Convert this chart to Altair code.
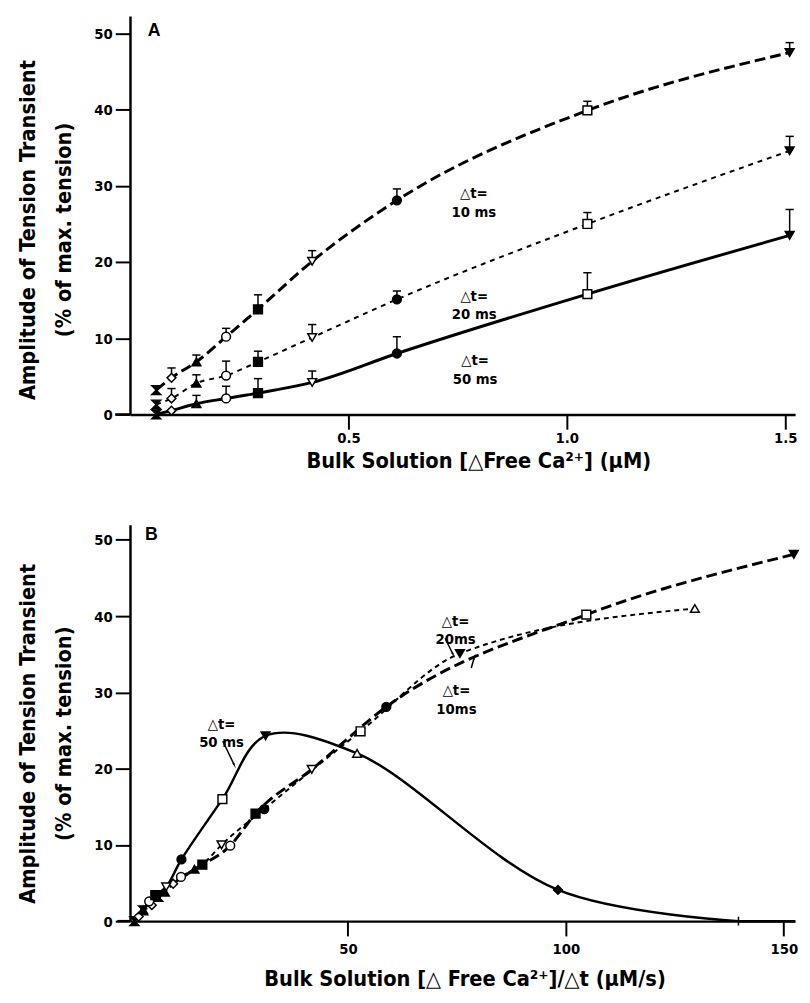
import altair as alt
import pandas as pd

FONT = "Liberation Sans Narrow, DejaVu Sans Condensed, Roboto Condensed, Liberation Sans, sans-serif"

# ---------------- symbols: one per free-Ca step ----------------
SYM_IDS = ["s1", "s2", "s3", "s4", "s5", "s6", "s7", "s8", "s9", "s10", "s11", "s12"]
SYM_SHAPES = ["M-1,-1L1,-1L-1,1L1,1Z", "diamond", "triangle-up", "circle", "square",
              "triangle-down", "circle", "square", "triangle-down", "triangle-up",
              "diamond", "M-1,0L1,0M0,-1L0,1"]
SYM_FILLED = [True, False, True, False, True, False, True, False, True, False, True, False]

# ---------------- Panel A data ----------------
A_CONC = [0.06, 0.095, 0.152, 0.22, 0.293, 0.417, 0.611, 1.047, 1.51]
A_SYM = ["s1", "s2", "s3", "s4", "s5", "s6", "s7", "s8", "s9"]
A_10 = [3.2, 4.8, 6.9, 10.2, 13.8, 20.1, 28.1, 39.9, 47.5]
A_10_ERR = [None, 6.1, 7.8, 11.3, 15.7, 21.5, 29.6, 41.1, 48.8]
A_20 = [1.3, 2.1, 4.1, 5.1, 6.9, 10.1, 15.1, 25.0, 34.6]
A_20_ERR = [None, 3.4, 5.2, 7.0, 8.3, 11.8, 16.2, 26.5, 36.5]
A_50 = [0.0, 0.5, 1.4, 2.1, 2.8, 4.2, 8.0, 15.8, 23.5]
A_50_ERR = [None, None, 2.5, 3.7, 4.7, 5.7, 10.2, 18.6, 26.9]

A_LABEL_X = [0.787, 0.788, 0.79]
A_LABEL_Y = [29.0, 15.6, 7.1]
A_LABEL_TEXT = ["△t=\n10 ms", "△t=\n20 ms", "△t=\n50 ms"]

# ---------------- Panel B data ----------------
B_10_X = [6.5, 9.9, 14.8, 23.0, 28.8, 41.7, 58.8, 104.7, 152.3]
B_10_Y = [3.2, 4.9, 6.8, 9.9, 14.1, 19.9, 28.1, 40.2, 48.1]
B_10_SYM = ["s1", "s2", "s3", "s4", "s5", "s6", "s7", "s8", "s9"]
B_20_X = [3.0, 5.0, 8.0, 11.7, 16.6, 21.0, 30.8, 52.9, 75.7, 129.6]
B_20_Y = [1.4, 2.1, 3.8, 5.8, 7.4, 10.0, 14.7, 24.9, 35.1, 41.0]
B_20_SYM = ["s1", "s2", "s3", "s4", "s5", "s6", "s7", "s8", "s9", "s10"]
B_50_X = [1.0, 2.0, 3.0, 4.4, 5.8, 8.3, 11.8, 21.2, 31.1, 52.1, 98.2, 139.6]
B_50_Y = [0.0, 0.6, 1.5, 2.6, 3.4, 4.5, 8.1, 16.0, 24.3, 22.0, 4.1, 0.0]
B_50_SYM = ["s1", "s2", "s3", "s4", "s5", "s6", "s7", "s8", "s9", "s10", "s11", "s12"]
B_50_LINE_END_X = 152.6
B_50_LINE_END_Y = 0.0

B_LABEL_X = [74.7, 74.9, 21.0]
B_LABEL_Y = [39.4, 30.3, 25.9]
B_LABEL_TEXT = ["△t=\n20ms", "△t=\n10ms", "△t=\n50 ms"]
B_ARROW_X0 = [72.3, 78.3, 21.3]
B_ARROW_Y0 = [37.1, 33.2, 23.6]
B_ARROW_X1 = [74.1, 79.0, 23.9]
B_ARROW_Y1 = [35.0, 34.6, 20.5]
ARROW_ANGLES = [154, 16, 154]

# ---------------- helpers ----------------
fill_of = {s: ("black" if f else "white") for s, f in zip(SYM_IDS, SYM_FILLED)}


def points_df(xs, ys, syms):
    return pd.DataFrame({"x": xs, "y": ys, "sym": syms, "fc": [fill_of[s] for s in syms]})


def shape_enc():
    return alt.Shape("sym:N", scale=alt.Scale(domain=SYM_IDS, range=SYM_SHAPES), legend=None)


def point_layer(df, x, y):
    return alt.Chart(df).mark_point(filled=True, opacity=1, size=80, strokeWidth=1.5).encode(
        x=x, y=y, shape=shape_enc(), fill=alt.Fill("fc:N", scale=None), stroke=alt.value("black"))


def line_layer(df, x, y, dash, width, interp="monotone"):
    kw = dict(interpolate=interp, strokeWidth=width, color="black")
    if dash:
        kw["strokeDash"] = dash
    return alt.Chart(df).mark_line(**kw).encode(x=x, y=y)


def label_layer(df, x, y):
    return alt.Chart(df).mark_text(
        font=FONT, fontSize=15, fontWeight="bold", lineBreak="\n", lineHeight=19,
        align="center", baseline="middle", color="black").encode(x=x, y=y, text="t:N")


W = 676
Y_TITLE = ["Amplitude of Tension Transient", "(% of max. tension)"]

# ================= Panel A =================
xA = alt.X("x:Q", scale=alt.Scale(domain=[0, 1.5225], nice=False, zero=False),
           axis=alt.Axis(values=[0.5, 1.0, 1.5], format=".1f", labelPadding=2,
                         title="Bulk Solution [△Free Ca²⁺] (μM)", titleFontSize=22,
                         titleX=354, titleY=37, titleBaseline="top"))
yA = alt.Y("y:Q", scale=alt.Scale(domain=[0, 52.3], nice=False, zero=False),
           axis=alt.Axis(values=[0, 10, 20, 30, 40, 50], format="d", labelPadding=3,
                         title=Y_TITLE, titleFontSize=22, titleLineHeight=37,
                         titleBaseline="bottom", titleX=-92, titleY=217))

a_lines = []
for ys, dash, wdt in [(A_10, [11, 5], 3), (A_20, [5, 5], 2), (A_50, None, 3)]:
    a_lines.append(line_layer(pd.DataFrame({"x": A_CONC, "y": ys}), xA, yA, dash, wdt))

err_rows = []
for ys, errs in [(A_10, A_10_ERR), (A_20, A_20_ERR), (A_50, A_50_ERR)]:
    for c, v, e in zip(A_CONC, ys, errs):
        if e is not None:
            err_rows.append({"x": c, "y": v, "top": e})
err_df = pd.DataFrame(err_rows)
a_err = alt.Chart(err_df).mark_rule(strokeWidth=1.5, color="black").encode(x=xA, y=yA, y2="top")
a_cap = alt.Chart(err_df).mark_point(shape="stroke", size=70, strokeWidth=1.5, color="black",
                                     filled=False, opacity=1).encode(x=xA, y=alt.Y("top:Q"))

a_pts = point_layer(pd.concat([points_df(A_CONC, A_10, A_SYM),
                               points_df(A_CONC, A_20, A_SYM),
                               points_df(A_CONC, A_50, A_SYM)]), xA, yA)

a_txt = label_layer(pd.DataFrame({"x": A_LABEL_X, "y": A_LABEL_Y, "t": A_LABEL_TEXT}), xA, yA)

a_letter = alt.Chart(pd.DataFrame({"x": [0.055], "y": [50.3], "t": ["A"]})).mark_text(
    font="Liberation Sans, Arial, sans-serif", fontSize=18, fontWeight="bold",
    align="center", baseline="middle", color="black").encode(x=xA, y=yA, text="t:N")

a_ext = alt.Chart(pd.DataFrame({"x": [-0.034], "x2": [0.0], "y": [0.0]})).mark_rule(
    strokeWidth=2.5, color="black").encode(x=xA, x2="x2", y=yA)

panelA = alt.layer(*a_lines, a_err, a_cap, a_pts, a_txt, a_letter, a_ext).properties(
    width=W, height=405)

# ================= Panel B =================
xB = alt.X("x:Q", scale=alt.Scale(domain=[0, 152.6], nice=False, zero=False),
           axis=alt.Axis(values=[50, 100, 150], format="d", labelPadding=6,
                         title="Bulk Solution [△ Free Ca²⁺]/△t (μM/s)", titleFontSize=22,
                         titleX=340, titleY=48, titleBaseline="top"))
yB = alt.Y("y:Q", scale=alt.Scale(domain=[0, 52.0], nice=False, zero=False),
           axis=alt.Axis(values=[0, 10, 20, 30, 40, 50], format="d", labelPadding=3,
                         title=Y_TITLE, titleFontSize=22, titleLineHeight=37,
                         titleBaseline="bottom", titleX=-92, titleY=212))

b_l10 = line_layer(pd.DataFrame({"x": B_10_X, "y": B_10_Y}), xB, yB, [11, 5], 3)
b_l20 = line_layer(pd.DataFrame({"x": B_20_X, "y": B_20_Y}), xB, yB, [5, 4], 2)
b_l50 = line_layer(pd.DataFrame({"x": B_50_X, "y": B_50_Y}), xB, yB, None, 2.5,
                   interp="catmull-rom")
b_l50_tail = line_layer(pd.DataFrame({"x": [B_50_X[-1], B_50_LINE_END_X],
                                      "y": [B_50_Y[-1], B_50_LINE_END_Y]}),
                        xB, yB, None, 2.5, interp="linear")

b_pts = point_layer(pd.concat([points_df(B_10_X, B_10_Y, B_10_SYM),
                               points_df(B_20_X, B_20_Y, B_20_SYM),
                               points_df(B_50_X, B_50_Y, B_50_SYM)]), xB, yB)

b_txt = label_layer(pd.DataFrame({"x": B_LABEL_X, "y": B_LABEL_Y, "t": B_LABEL_TEXT}), xB, yB)

arrow_df = pd.DataFrame({"x": B_ARROW_X0, "y": B_ARROW_Y0, "x2": B_ARROW_X1, "y2": B_ARROW_Y1,
                         "ang": ARROW_ANGLES})
b_arrow = alt.Chart(arrow_df).mark_rule(strokeWidth=1.5, color="black").encode(
    x=xB, y=yB, x2="x2", y2="y2")
b_head = alt.Chart(arrow_df).mark_point(shape="wedge", size=60, filled=True, opacity=1,
                                        color="black").encode(
    x=alt.X("x2:Q"), y=alt.Y("y2:Q"), angle=alt.Angle("ang:Q", scale=None))

b_letter = alt.Chart(pd.DataFrame({"x": [4.9], "y": [50.6], "t": ["B"]})).mark_text(
    font="Liberation Sans, Arial, sans-serif", fontSize=18, fontWeight="bold",
    align="center", baseline="middle", color="black").encode(x=xB, y=yB, text="t:N")

b_ext = alt.Chart(pd.DataFrame({"x": [-2.9], "x2": [0.0], "y": [0.0]})).mark_rule(
    strokeWidth=2.5, color="black").encode(x=xB, x2="x2", y=yB)

panelB = alt.layer(b_l10, b_l20, b_l50, b_l50_tail, b_pts, b_txt, b_arrow, b_head, b_letter,
                   b_ext).properties(width=W, height=403)

chart = alt.vconcat(panelA, panelB, spacing=112, bounds="flush").properties(
    padding={"left": 8, "top": 0, "right": 0, "bottom": 0}
).configure_axis(
    grid=False, domainColor="black", domainWidth=2.5, tickColor="black", tickWidth=2,
    tickSize=15, labelFont=FONT, labelFontSize=15, labelFontWeight="bold", labelColor="black",
    titleFont=FONT, titleFontWeight="bold", titleColor="black", labelAngle=0
).configure_view(stroke=None)

chart.save("out.html", embed_options={"renderer": "svg", "actions": False})
